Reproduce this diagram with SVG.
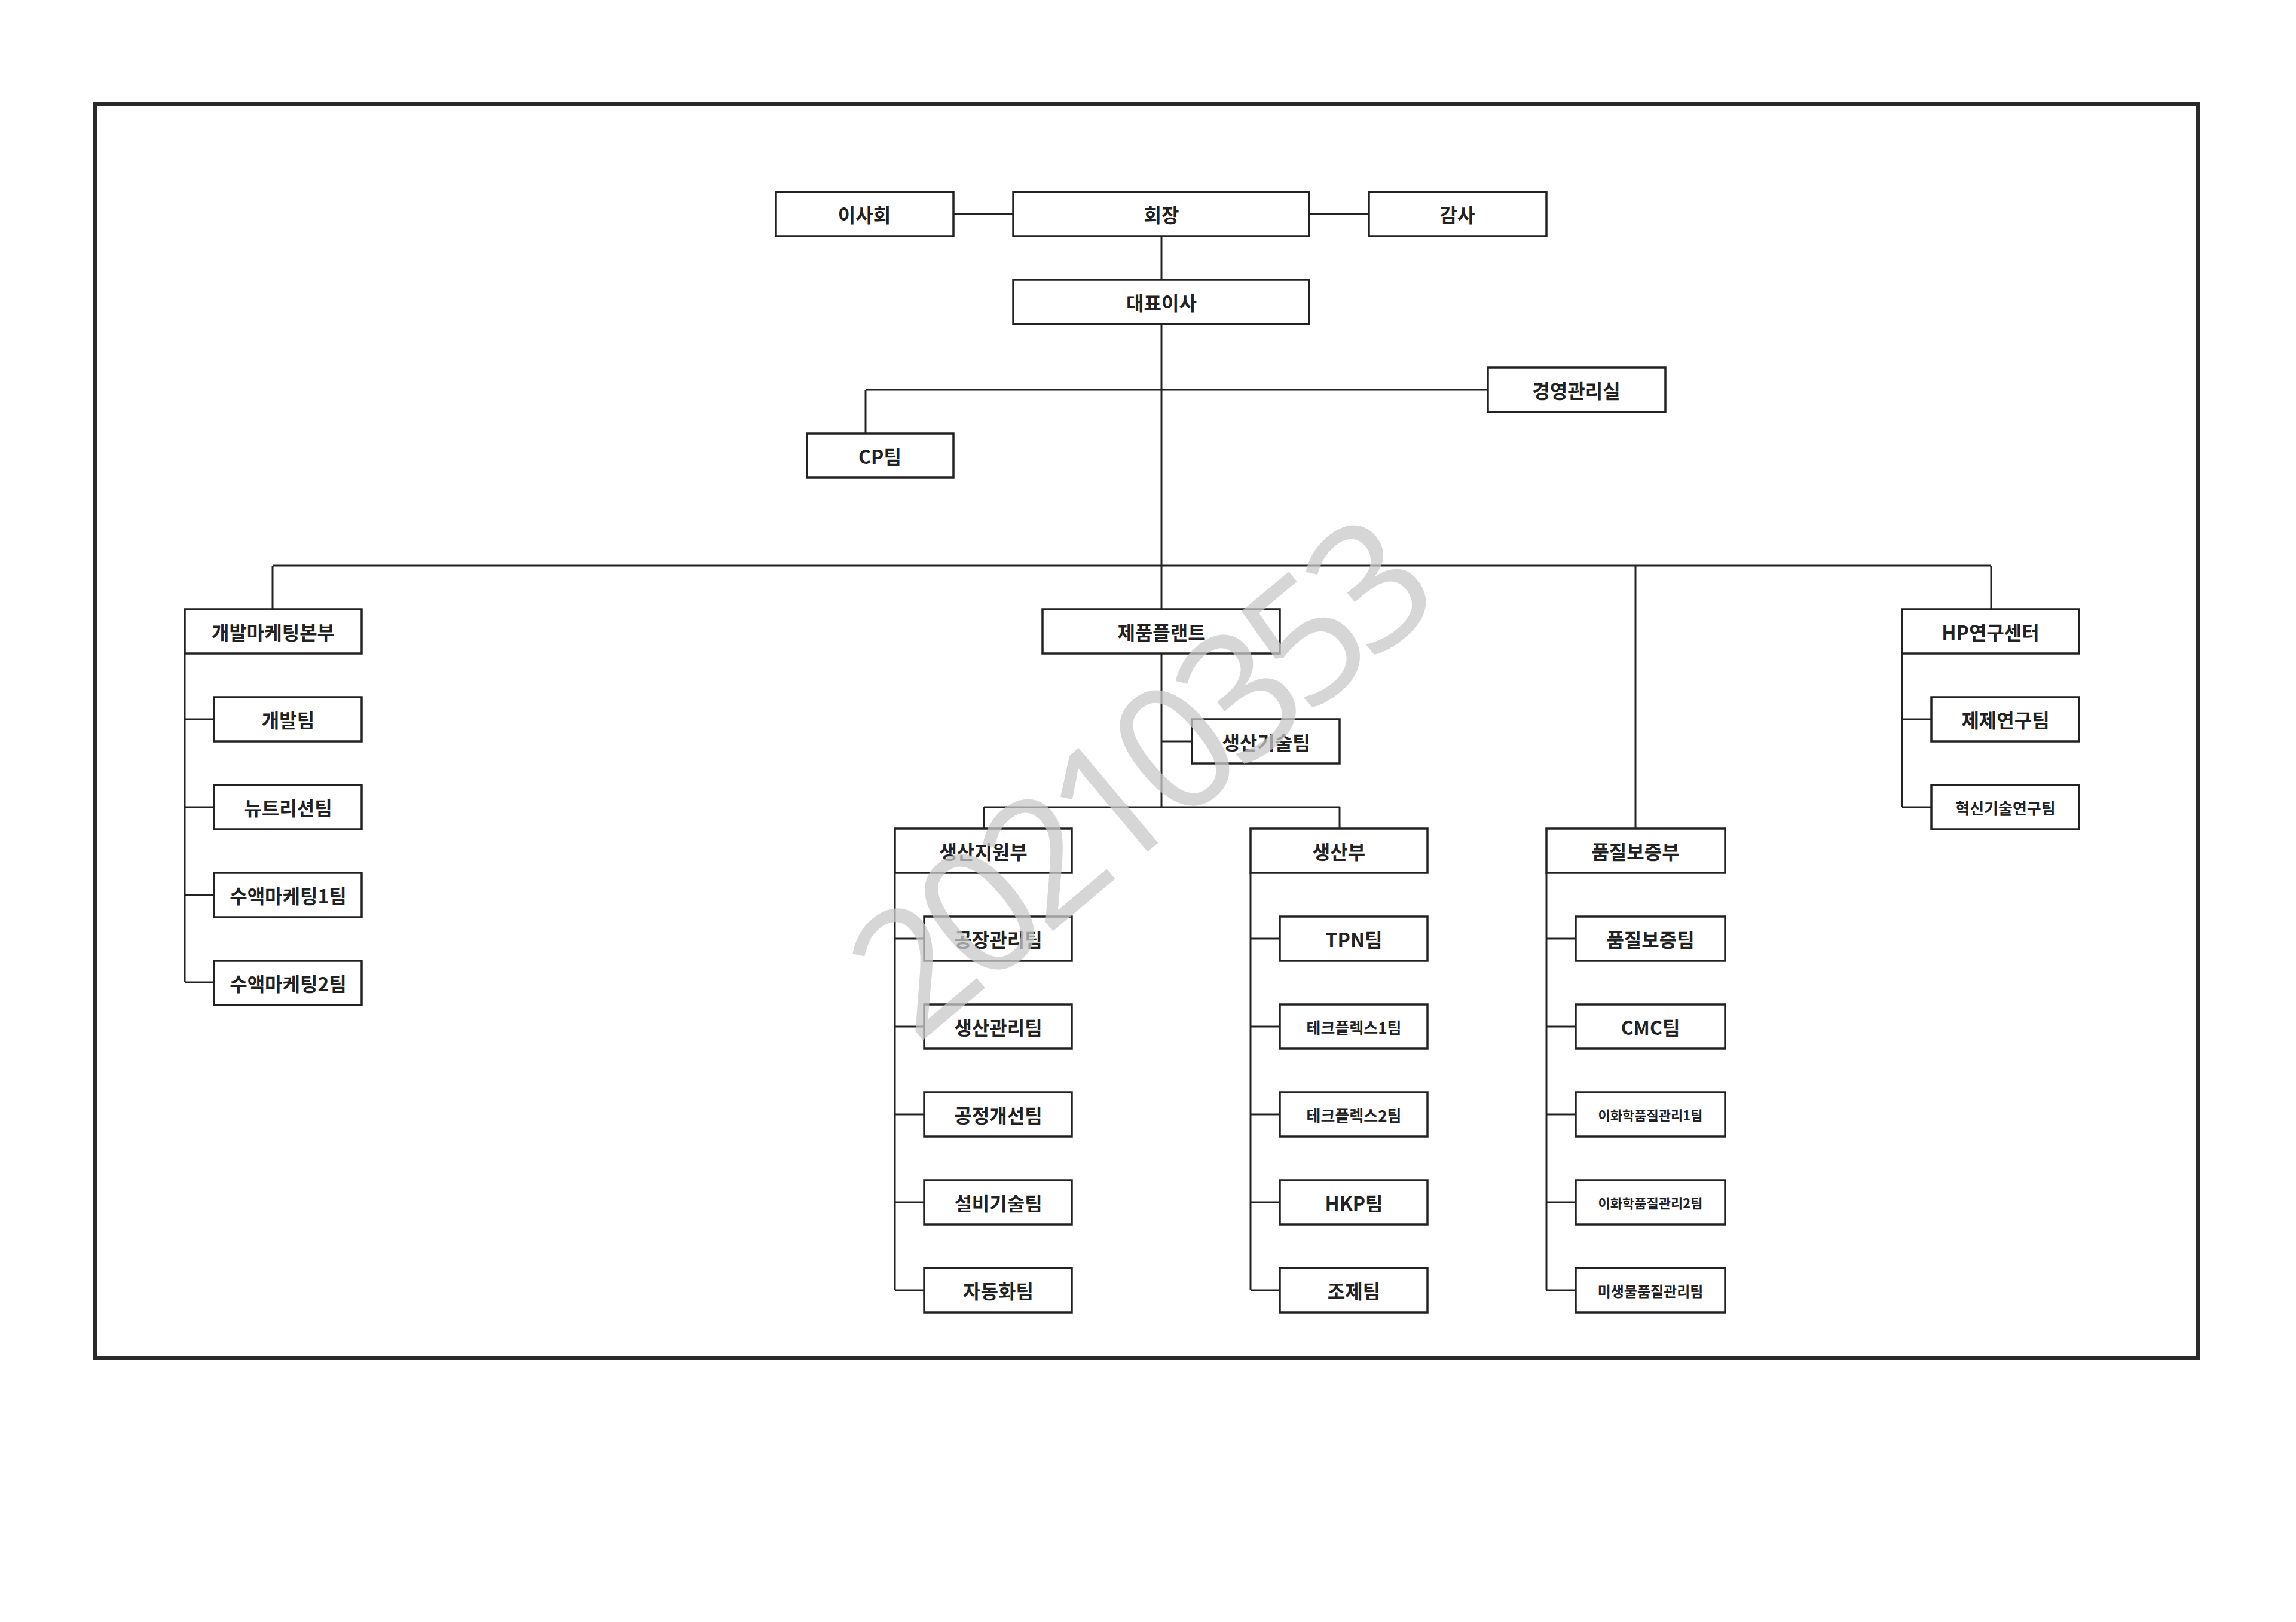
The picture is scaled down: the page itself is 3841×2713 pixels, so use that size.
<svg xmlns="http://www.w3.org/2000/svg" width="3841" height="2713" viewBox="0 0 3841 2713">
<style>
.b{fill:#fff;stroke:#222;stroke-width:3.5}
.t{font-family:"Noto Sans CJK KR","Noto Sans",sans-serif;font-weight:bold;font-size:32px;fill:#222;text-anchor:middle;dominant-baseline:central}
.s{font-size:26px}
.c{fill:none;stroke:#222;stroke-width:3}
</style>
<rect width="3841" height="2713" fill="#fff"/>
<rect x="159" y="174" width="3518" height="2097" fill="none" stroke="#2a2a2a" stroke-width="6"/>
<g id="connectors" class="c">
<path d="M1595 358H1695M2190 358H2290M1943 394V468M1943 542V1019M1448 652H2489M1448 652V725"/>
<path d="M456 946H3331M456 946V1019M2736 946V1386M3331 946V1019"/>
<path d="M309 1093V1643M309 1203H358M309 1350H358M309 1497H358M309 1643H358"/>
<path d="M1943 1093V1350M1943 1240H1994M1646 1350H2241M1646 1350V1386M2241 1350V1386"/>
<path d="M1497 1460V2158M1497 1570H1546M1497 1717H1546M1497 1864H1546M1497 2011H1546M1497 2158H1546"/>
<path d="M2092 1460V2158M2092 1570H2141M2092 1717H2141M2092 1864H2141M2092 2011H2141M2092 2158H2141"/>
<path d="M2587 1460V2158M2587 1570H2636M2587 1717H2636M2587 1864H2636M2587 2011H2636M2587 2158H2636"/>
<path d="M3182 1093V1350M3182 1203H3231M3182 1350H3231"/>
</g>
<g id="n1"><rect class="b" x="1298" y="321" width="297" height="74"/><text class="t" x="1446" y="358">이사회</text></g>
<g id="n2"><rect class="b" x="1695" y="321" width="495" height="74"/><text class="t" x="1943" y="358">회장</text></g>
<g id="n3"><rect class="b" x="2290" y="321" width="297" height="74"/><text class="t" x="2438" y="358">감사</text></g>
<g id="n4"><rect class="b" x="1695" y="468" width="495" height="74"/><text class="t" x="1943" y="505">대표이사</text></g>
<g id="n5"><rect class="b" x="2489" y="615" width="297" height="74"/><text class="t" x="2637" y="652">경영관리실</text></g>
<g id="n6"><rect class="b" x="1350" y="725" width="245" height="74"/><text class="t" x="1472" y="762">CP팀</text></g>
<g id="n7"><rect class="b" x="309" y="1019" width="296" height="74"/><text class="t" x="457" y="1056">개발마케팅본부</text></g>
<g id="n8"><rect class="b" x="1744" y="1019" width="397" height="74"/><text class="t" x="1943" y="1056">제품플랜트</text></g>
<g id="n9"><rect class="b" x="3182" y="1019" width="296" height="74"/><text class="t" x="3330" y="1056">HP연구센터</text></g>
<g id="n10"><rect class="b" x="358" y="1166" width="247" height="74"/><text class="t" x="482" y="1203">개발팀</text></g>
<g id="n11"><rect class="b" x="358" y="1313" width="247" height="74"/><text class="t" x="482" y="1350">뉴트리션팀</text></g>
<g id="n12"><rect class="b" x="358" y="1460" width="247" height="74"/><text class="t" x="482" y="1497">수액마케팅1팀</text></g>
<g id="n13"><rect class="b" x="358" y="1607" width="247" height="74"/><text class="t" x="482" y="1644">수액마케팅2팀</text></g>
<g id="n14"><rect class="b" x="1994" y="1203" width="247" height="74"/><text class="t" x="2118" y="1240">생산기술팀</text></g>
<g id="n15"><rect class="b" x="3231" y="1166" width="247" height="74"/><text class="t" x="3355" y="1203">제제연구팀</text></g>
<g id="n16"><rect class="b" x="3231" y="1313" width="247" height="74"/><text class="t s" x="3355" y="1350">혁신기술연구팀</text></g>
<g id="n17"><rect class="b" x="1497" y="1386" width="296" height="74"/><text class="t" x="1645" y="1423">생산지원부</text></g>
<g id="n18"><rect class="b" x="2092" y="1386" width="296" height="74"/><text class="t" x="2240" y="1423">생산부</text></g>
<g id="n19"><rect class="b" x="2587" y="1386" width="299" height="74"/><text class="t" x="2736" y="1423">품질보증부</text></g>
<g id="n20"><rect class="b" x="1546" y="1533" width="247" height="74"/><text class="t" x="1670" y="1570">공장관리팀</text></g>
<g id="n21"><rect class="b" x="1546" y="1680" width="247" height="74"/><text class="t" x="1670" y="1717">생산관리팀</text></g>
<g id="n22"><rect class="b" x="1546" y="1827" width="247" height="74"/><text class="t" x="1670" y="1864">공정개선팀</text></g>
<g id="n23"><rect class="b" x="1546" y="1974" width="247" height="74"/><text class="t" x="1670" y="2011">설비기술팀</text></g>
<g id="n24"><rect class="b" x="1546" y="2121" width="247" height="74"/><text class="t" x="1670" y="2158">자동화팀</text></g>
<g id="n25"><rect class="b" x="2141" y="1533" width="247" height="74"/><text class="t" x="2265" y="1570">TPN팀</text></g>
<g id="n26"><rect class="b" x="2141" y="1680" width="247" height="74"/><text class="t s" x="2265" y="1717">테크플렉스1팀</text></g>
<g id="n27"><rect class="b" x="2141" y="1827" width="247" height="74"/><text class="t s" x="2265" y="1864">테크플렉스2팀</text></g>
<g id="n28"><rect class="b" x="2141" y="1974" width="247" height="74"/><text class="t" x="2265" y="2011">HKP팀</text></g>
<g id="n29"><rect class="b" x="2141" y="2121" width="247" height="74"/><text class="t" x="2265" y="2158">조제팀</text></g>
<g id="n30"><rect class="b" x="2636" y="1533" width="250" height="74"/><text class="t" x="2761" y="1570">품질보증팀</text></g>
<g id="n31"><rect class="b" x="2636" y="1680" width="250" height="74"/><text class="t" x="2761" y="1717">CMC팀</text></g>
<g id="n32"><rect class="b" x="2636" y="1827" width="250" height="74"/><text class="t" x="2761" y="1864" style="font-size:22px">이화학품질관리1팀</text></g>
<g id="n33"><rect class="b" x="2636" y="1974" width="250" height="74"/><text class="t" x="2761" y="2011" style="font-size:22px">이화학품질관리2팀</text></g>
<g id="n34"><rect class="b" x="2636" y="2121" width="250" height="74"/><text class="t" x="2761" y="2158" style="font-size:24px">미생물품질관리팀</text></g>
<text x="1905" y="1290" transform="rotate(-40 1905 1290)" font-family="'Open Sans','DejaVu Sans',sans-serif" font-size="290" fill="#c8c8c8" fill-opacity="0.75" text-anchor="middle" dominant-baseline="central" textLength="1160">20210353</text>
</svg>
